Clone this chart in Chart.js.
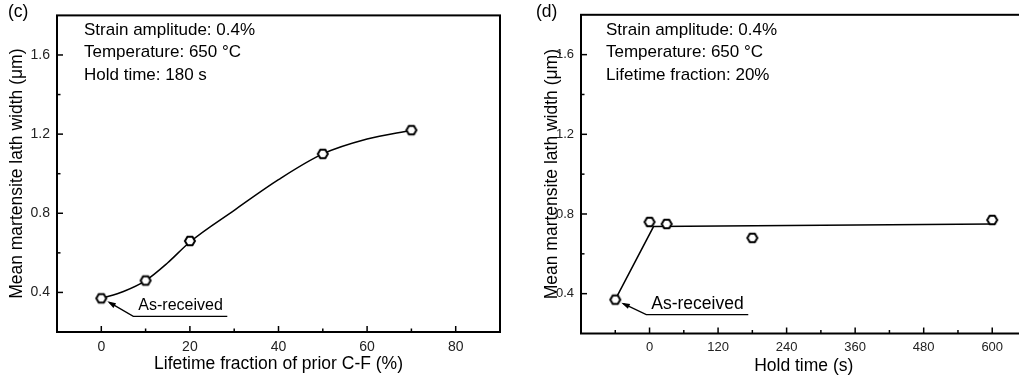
<!DOCTYPE html>
<html>
<head>
<meta charset="utf-8">
<script src="https://cdn.jsdelivr.net/npm/chart.js@4.4.1/dist/chart.umd.min.js"></script>
<style>
  body { margin: 0; background: #fff; width: 1019px; height: 385px; overflow: hidden; position: relative; }
  canvas { position: absolute; top: 0; }
</style>
</head>
<body>
<canvas id="panelC" width="510" height="385" style="left:0"></canvas>
<canvas id="panelD" width="540" height="385" style="left:510px"></canvas>
<script>
// (c) lath width against lifetime fraction of prior C-F
const fractionX = [0, 10, 20, 50, 70];
const fractionWidth = [0.37, 0.46, 0.66, 1.10, 1.22];
// smooth guide curve through (c)
const fractionFitX = [0, 5, 10, 15, 20, 30, 40, 50, 60, 70];
const fractionFitY = [0.37, 0.405, 0.46, 0.55, 0.655, 0.815, 0.97, 1.10, 1.175, 1.22];

// (d) lath width against hold time; first point is the as-received state
const holdX = [-60, 0, 30, 180, 600];
const holdWidth = [0.37, 0.76, 0.75, 0.68, 0.77];
const holdFitX = [-60, 7, 600];
const holdFitY = [0.37, 0.737, 0.75];

// tick positions
const widthTicks = [0.4, 0.8, 1.2, 1.6];
const widthMinor = [0.6, 1.0, 1.4];
const fractionTicks = [0, 20, 40, 60, 80];
const fractionMinor = [10, 30, 50, 70];
const holdTicks = [0, 120, 240, 360, 480, 600];
const holdMinor = [-60, 60, 180, 300, 420, 540];

const FONT = "'Liberation Sans', Arial, sans-serif";

function hexagon(r) {
  const c = document.createElement('canvas');
  const s = 2 * r + 4;
  c.width = c.height = s;
  const g = c.getContext('2d');
  g.beginPath();
  for (let i = 0; i < 6; i++) {
    const a = Math.PI / 3 * i;
    g.lineTo(s / 2 + r * Math.cos(a), s / 2 + r * Math.sin(a));
  }
  g.closePath();
  g.fillStyle = '#fff';
  g.fill();
  g.lineWidth = 2;
  g.strokeStyle = '#000';
  g.stroke();
  return c;
}
const hex = hexagon(5);

// box, inward ticks, condition text and the as-received callout
const decor = {
  id: 'decor',
  afterDraw(chart, args, o) {
    const ctx = chart.ctx;
    const a = chart.chartArea;
    const xs = chart.scales.x, ys = chart.scales.y;
    ctx.save();
    ctx.strokeStyle = '#000';
    ctx.lineWidth = 1.5;
    const tick = (vals, len, horiz) => vals.forEach(v => {
      ctx.beginPath();
      if (horiz) {
        const p = xs.getPixelForValue(v);
        ctx.moveTo(p, a.bottom); ctx.lineTo(p, a.bottom - len);
      } else {
        const p = ys.getPixelForValue(v);
        ctx.moveTo(a.left, p); ctx.lineTo(a.left + len, p);
      }
      ctx.stroke();
    });
    tick(o.xMajor, 6, true);
    tick(o.xMinor, 3.5, true);
    tick(o.yMajor, 6, false);
    tick(o.yMinor, 3.5, false);

    ctx.lineWidth = 2;
    ctx.strokeRect(a.left, a.top, a.right - a.left, a.bottom - a.top);

    ctx.fillStyle = '#000';
    ctx.textBaseline = 'middle';
    ctx.textAlign = 'left';
    ctx.font = '17.5px ' + FONT;
    ctx.fillText(o.tag, o.tagX, 12);
    ctx.font = '17px ' + FONT;
    o.notes.forEach((t, i) => ctx.fillText(t, a.left + o.noteDx, 30 + i * 22.5));

    // callout pointing at the as-received point
    const px = xs.getPixelForValue(o.refX), py = ys.getPixelForValue(o.refY);
    const c = o.callout;
    const sx = px + c.lineStart, sy = py + c.lineDy;
    ctx.lineWidth = 1.3;
    ctx.beginPath();
    ctx.moveTo(px + c.lineEnd, sy);
    ctx.lineTo(sx, sy);
    ctx.lineTo(px + 8, py + 4);
    ctx.stroke();
    const tx = px + 6, ty = py + 3;
    const ang = Math.atan2(sy - ty, sx - tx);
    ctx.beginPath();
    ctx.moveTo(tx, ty);
    ctx.lineTo(tx + 9 * Math.cos(ang - 0.3), ty + 9 * Math.sin(ang - 0.3));
    ctx.lineTo(tx + 9 * Math.cos(ang + 0.3), ty + 9 * Math.sin(ang + 0.3));
    ctx.closePath();
    ctx.fill();
    ctx.font = c.size + 'px ' + FONT;
    ctx.fillText('As-received', px + c.textDx, py + c.textDy);
    ctx.restore();
  }
};

function axes(xr, yAxisW, xAxisH, xTicks, xTitle, ytPad, xtPad, tickSize) {
  return {
    x: {
      type: 'linear', min: xr[0], max: xr[1],
      afterBuildTicks: s => { s.ticks = xTicks.map(v => ({ value: v })); },
      afterFit: s => { s.height = xAxisH; },
      grid: { display: false, drawTicks: false },
      border: { display: false },
      ticks: { color: '#222', padding: 6.5, font: { family: FONT, size: tickSize } },
      title: { display: true, text: xTitle, color: '#000', padding: { bottom: xtPad },
               font: { family: FONT, size: 17.5 } }
    },
    y: {
      type: 'linear', min: 0.2, max: 1.8,
      afterBuildTicks: s => { s.ticks = widthTicks.map(v => ({ value: v })); },
      afterFit: s => { s.width = yAxisW; },
      grid: { display: false, drawTicks: false },
      border: { display: false },
      ticks: { color: '#222', padding: 7, font: { family: FONT, size: tickSize },
               callback: v => v.toFixed(1) },
      title: { display: true, text: 'Mean martensite lath width (μm)', color: '#000',
               padding: { top: ytPad }, font: { family: FONT, size: 17.5 } }
    }
  };
}

const common = {
  responsive: false,
  animation: false,
  events: [],
  plugins: { legend: { display: false }, tooltip: { enabled: false } }
};

new Chart(document.getElementById('panelC'), {
  type: 'scatter',
  data: {
    datasets: [{
      data: fractionX.map((x, i) => ({ x, y: fractionWidth[i] })),
      showLine: false,
      pointStyle: hex,
      pointRadius: 5,
      order: 0
    }, {
      data: fractionFitX.map((x, i) => ({ x, y: fractionFitY[i] })),
      showLine: true,
      borderColor: '#000',
      borderWidth: 1.5,
      cubicInterpolationMode: 'monotone',
      pointRadius: 0,
      order: 1
    }]
  },
  options: {
    ...common,
    layout: { padding: { top: 3, right: 10, left: 0, bottom: 0 } },
    scales: axes([-10, 90], 57, 53, fractionTicks, 'Lifetime fraction of prior C-F (%)', 6.5, 10.5, 14),
    plugins: {
      ...common.plugins,
      decor: {
        xMajor: fractionTicks, xMinor: fractionMinor, yMajor: widthTicks, yMinor: widthMinor,
        tag: '(c)', tagX: 8, noteDx: 27,
        notes: ['Strain amplitude: 0.4%', 'Temperature: 650 °C', 'Hold time: 180 s'],
        refX: fractionX[0], refY: fractionWidth[0],
        callout: { lineStart: 32, lineEnd: 126, lineDy: 18, textDx: 37, textDy: 7.5, size: 16 }
      }
    }
  },
  plugins: [decor]
});

new Chart(document.getElementById('panelD'), {
  type: 'scatter',
  data: {
    datasets: [{
      data: holdX.map((x, i) => ({ x, y: holdWidth[i] })),
      showLine: false,
      pointStyle: hex,
      pointRadius: 5,
      order: 0
    }, {
      data: holdFitX.map((x, i) => ({ x, y: holdFitY[i] })),
      showLine: true,
      borderColor: '#000',
      borderWidth: 1.5,
      pointRadius: 0,
      order: 1
    }]
  },
  options: {
    ...common,
    layout: { padding: { top: 3, right: 23.5, left: 0, bottom: 0 } },
    scales: axes([-120, 660], 71, 51.5, holdTicks, 'Hold time (s)', 32, 8, 13),
    plugins: {
      ...common.plugins,
      decor: {
        xMajor: holdTicks, xMinor: holdMinor, yMajor: widthTicks, yMinor: widthMinor,
        tag: '(d)', tagX: 26, noteDx: 25,
        notes: ['Strain amplitude: 0.4%', 'Temperature: 650 °C', 'Lifetime fraction: 20%'],
        refX: holdX[0], refY: holdWidth[0],
        callout: { lineStart: 31, lineEnd: 133, lineDy: 15, textDx: 36, textDy: 4.5, size: 17.5 }
      }
    }
  },
  plugins: [decor]
});
</script>
</body>
</html>
